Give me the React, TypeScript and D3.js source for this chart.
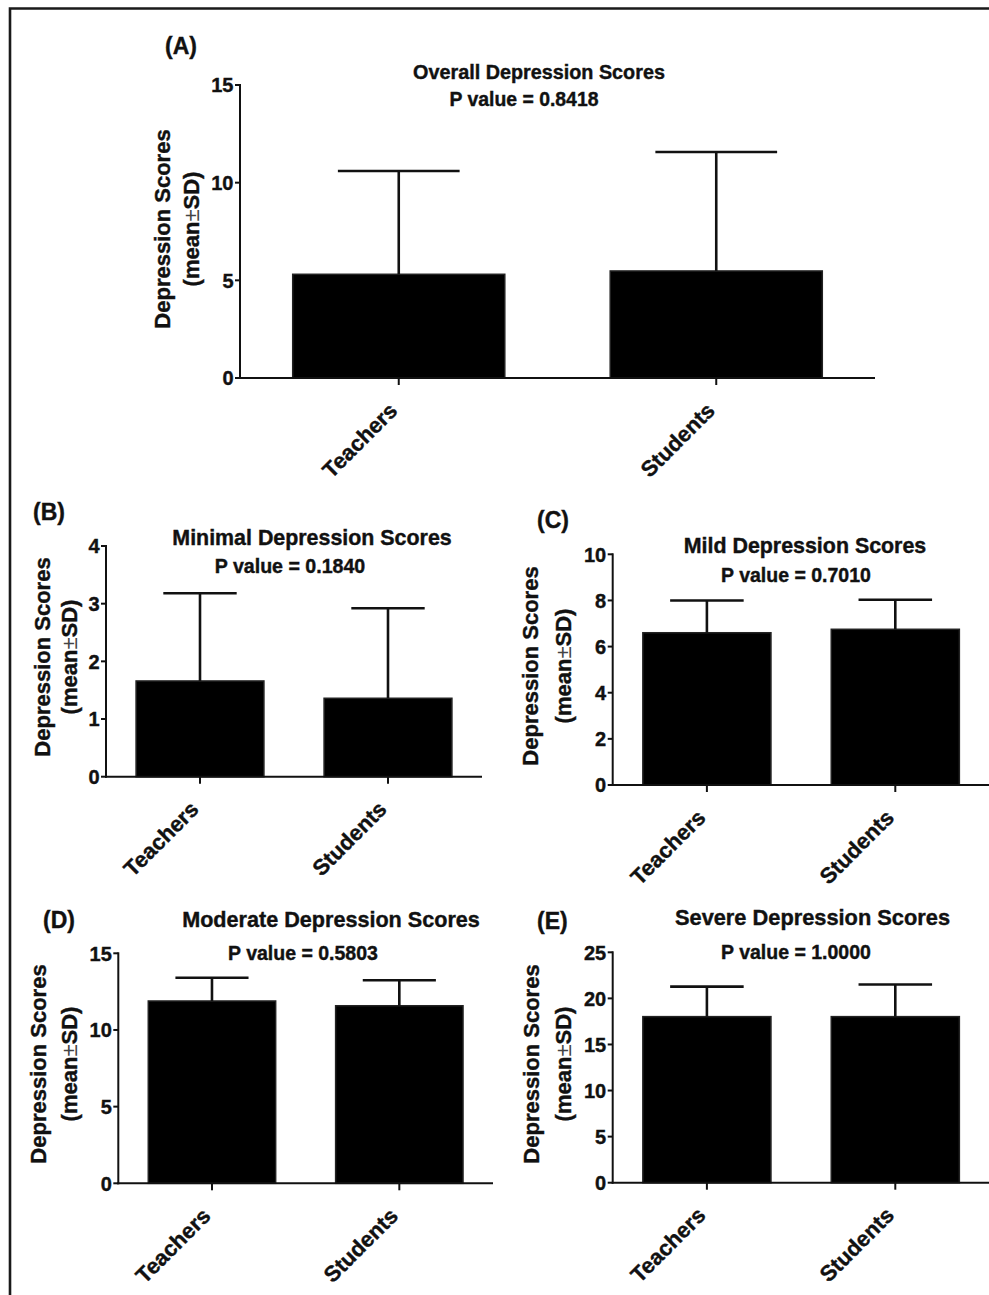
import React from "react";
import * as d3 from "d3";

// Groups compared in every panel
const groups = ["Teachers", "Students"];

// (A) Overall depression scores
const overallMeans = [5.31, 5.48];
const overallSDs = [5.29, 6.09];
const overallTicks = [0, 5, 10, 15];

// (B) Minimal depression scores
const minimalMeans = [1.66, 1.36];
const minimalSDs = [1.52, 1.56];
const minimalTicks = [0, 1, 2, 3, 4];

// (C) Mild depression scores
const mildMeans = [6.6, 6.75];
const mildSDs = [1.4, 1.28];
const mildTicks = [0, 2, 4, 6, 8, 10];

// (D) Moderate depression scores
const moderateMeans = [11.89, 11.58];
const moderateSDs = [1.52, 1.66];
const moderateTicks = [0, 5, 10, 15];

// (E) Severe depression scores
const severeMeans = [18.02, 18.02];
const severeSDs = [3.26, 3.48];
const severeTicks = [0, 5, 10, 15, 20, 25];

const panelLetters = ["(A)", "(B)", "(C)", "(D)", "(E)"];
const panelTitles = [
  "Overall Depression Scores",
  "Minimal Depression Scores",
  "Mild Depression Scores",
  "Moderate Depression Scores",
  "Severe Depression Scores",
];
const pValues = ["0.8418", "0.1840", "0.7010", "0.5803", "1.0000"];

const FONT = "'Liberation Sans', Arimo, Arial, Helvetica, sans-serif";
const INK = "#111";

type Layout = {
  x0: number;
  x1: number;
  y0: number;
  yTop: number;
  pad: number;
  letter: [number, number];
  title: [number, number, number];
  pval: [number, number, number];
  yLab: [number, number, number];
};

const layouts: Layout[] = [
  { x0: 240, x1: 875, y0: 378, yTop: 85, pad: 0.332, letter: [165, 54], title: [539, 79, 19.8], pval: [524, 106, 19.4], yLab: [-70, -41, 229] },
  { x0: 106, x1: 482, y0: 776.7, yTop: 546, pad: 0.32, letter: [33, 520], title: [312, 545, 21.4], pval: [290, 573, 19.6], yLab: [-56, -29, 657] },
  { x0: 612.7, x1: 989.5, y0: 785, yTop: 554.3, pad: 0.32, letter: [537, 528], title: [805, 553, 21.4], pval: [796, 582, 19.5], yLab: [-75, -42, 666] },
  { x0: 118.3, x1: 493, y0: 1183.3, yTop: 953.3, pad: 0.32, letter: [43, 928], title: [331, 927, 21.6], pval: [303, 960, 19.5], yLab: [-72, -41, 1064] },
  { x0: 612.7, x1: 989.5, y0: 1182.7, yTop: 952.3, pad: 0.32, letter: [537, 929], title: [812.5, 925, 21.8], pval: [796, 959, 19.5], yLab: [-74, -42, 1064] },
];

const panelData = [
  { means: overallMeans, sds: overallSDs, ticks: overallTicks },
  { means: minimalMeans, sds: minimalSDs, ticks: minimalTicks },
  { means: mildMeans, sds: mildSDs, ticks: mildTicks },
  { means: moderateMeans, sds: moderateSDs, ticks: moderateTicks },
  { means: severeMeans, sds: severeSDs, ticks: severeTicks },
];

function Panel({ idx }: { idx: number }) {
  const L = layouts[idx];
  const D = panelData[idx];
  const x = d3
    .scaleBand<string>()
    .domain(groups)
    .range([L.x0, L.x1])
    .paddingInner(L.pad)
    .paddingOuter(L.pad / 2);
  const y = d3
    .scaleLinear()
    .domain([0, d3.max(D.ticks) as number])
    .range([L.y0, L.yTop]);
  const bw = x.bandwidth();
  const capHalf = bw * 0.287;

  return (
    <g fontFamily={FONT} fontWeight="bold" fill={INK}>
      {/* text gets a hairline stroke for the heavy print look */}
      <g stroke={INK} strokeWidth={0.4}>
        <text x={L.letter[0]} y={L.letter[1]} fontSize={23}>
          {panelLetters[idx]}
        </text>
        <text x={L.title[0]} y={L.title[1]} fontSize={L.title[2]} textAnchor="middle">
          {panelTitles[idx]}
        </text>
        <text x={L.pval[0]} y={L.pval[1]} fontSize={L.pval[2]} textAnchor="middle">
          {`P value = ${pValues[idx]}`}
        </text>
      </g>

      {/* bars */}
      {groups.map((g, i) => (
        <rect
          key={`bar-${g}`}
          x={x(g)}
          y={y(D.means[i])}
          width={bw}
          height={y(0) - y(D.means[i])}
          fill="#000"
          stroke="#222"
          strokeWidth={1.5}
        />
      ))}

      {/* error bars (mean + SD) */}
      {groups.map((g, i) => {
        const cx = (x(g) as number) + bw / 2;
        const top = y(D.means[i] + D.sds[i]);
        return (
          <g key={`err-${g}`} stroke={INK} strokeWidth={2.6} fill="none">
            <line x1={cx} x2={cx} y1={y(D.means[i])} y2={top} />
            <line x1={cx - capHalf} x2={cx + capHalf} y1={top} y2={top} />
          </g>
        );
      })}

      {/* y axis */}
      <g stroke={INK} strokeWidth={2} fill="none">
        <line x1={L.x0} x2={L.x0} y1={y(d3.max(D.ticks) as number) - 1} y2={L.y0 + 1} />
        {D.ticks.map((t) => (
          <line key={`yt-${t}`} x1={L.x0 - 5} x2={L.x0} y1={y(t)} y2={y(t)} />
        ))}
      </g>
      <g stroke={INK} strokeWidth={0.4}>
        {D.ticks.map((t) => (
          <text
            key={`yl-${t}`}
            x={L.x0 - 6.5}
            y={y(t)}
            dy="0.36em"
            fontSize={20}
            textAnchor="end"
          >
            {t}
          </text>
        ))}
      </g>

      {/* x axis */}
      <g stroke={INK} strokeWidth={2} fill="none">
        <line x1={L.x0 - 1} x2={L.x1} y1={L.y0} y2={L.y0} />
        {groups.map((g) => {
          const cx = (x(g) as number) + bw / 2;
          return <line key={`xt-${g}`} x1={cx} x2={cx} y1={L.y0} y2={L.y0 + 7} />;
        })}
      </g>
      <g stroke={INK} strokeWidth={0.4}>
        {groups.map((g) => {
          const cx = (x(g) as number) + bw / 2;
          return (
            <text
              key={`xl-${g}`}
              transform={`translate(${cx},${L.y0 + 34}) rotate(-45)`}
              fontSize={22}
              textAnchor="end"
            >
              {g}
            </text>
          );
        })}

        {/* y axis title */}
        <text
          transform={`translate(${L.x0 + L.yLab[0]},${L.yLab[2]}) rotate(-90)`}
          fontSize={22}
          textAnchor="middle"
        >
          Depression Scores
        </text>
        <text
          transform={`translate(${L.x0 + L.yLab[1]},${L.yLab[2]}) rotate(-90)`}
          fontSize={22}
          textAnchor="middle"
        >
          (mean
          <tspan fontWeight="normal" fill="#444" stroke="none">
            ±
          </tspan>
          SD)
        </text>
      </g>
    </g>
  );
}

export default function App() {
  return (
    <svg
      width={989}
      height={1295}
      viewBox="0 0 989 1295"
      style={{ position: "absolute", left: 0, top: 0, background: "#fff" }}
    >
      <rect x={0} y={0} width={989} height={1295} fill="#fff" />
      {/* figure frame */}
      <path d="M10,1295 L10,8.5 L989,8.5" fill="none" stroke="#1a1a1a" strokeWidth={2.6} />
      {layouts.map((_, i) => (
        <Panel key={i} idx={i} />
      ))}
    </svg>
  );
}
